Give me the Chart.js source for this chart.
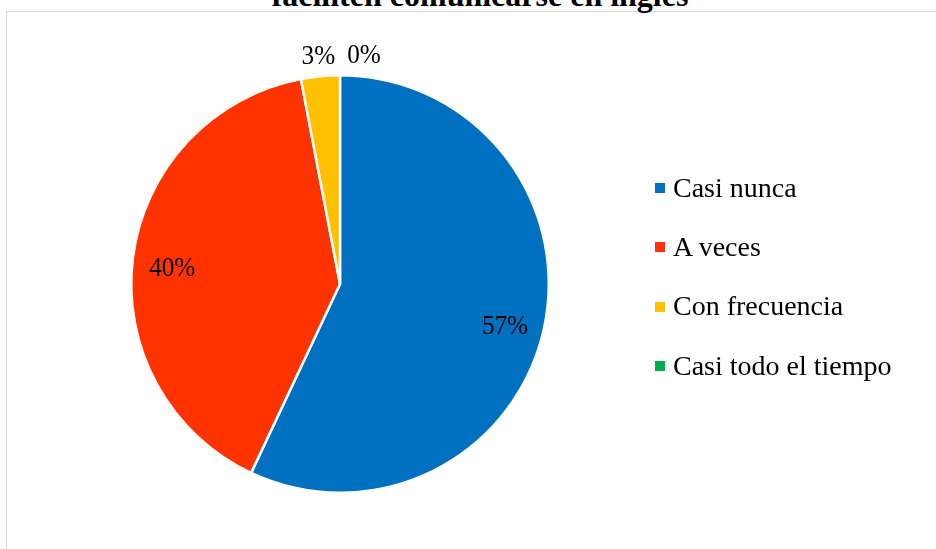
<!DOCTYPE html>
<html>
<head>
<meta charset="utf-8">
<script src="https://cdn.jsdelivr.net/npm/chart.js@4.4.1/dist/chart.umd.min.js"></script>
<style>
  html, body { margin: 0; padding: 0; background: #fff; overflow: hidden; }
  #wrap { position: relative; width: 936px; height: 549px; font-family: "Liberation Serif", "Times New Roman", serif; }
  #frame { position: absolute; left: 6px; top: 11px; width: 1000px; height: 600px; border: 1.5px solid #d9d9d9; box-sizing: border-box; }
  #title { position: absolute; left: 0; width: 960px; top: -21px; line-height: 32px; text-align: center; font-weight: bold; font-size: 32px; color: #000; white-space: nowrap; }
  canvas { position: absolute; left: 0; top: 0; }
  #legend { position: absolute; left: 655px; top: 158px; }
  .item { height: 59.3px; display: flex; align-items: center; font-size: 28px; color: #000; }
  .box { width: 10px; height: 10px; margin-right: 8px; margin-top: 1px; }
</style>
</head>
<body>
<div id="wrap">
  <div id="frame"></div>
  <div id="title">faciliten comunicarse en inglés</div>
  <canvas id="pie" width="936" height="549"></canvas>
  <div id="legend"></div>
</div>
<script>
const categories = ['Casi nunca', 'A veces', 'Con frecuencia', 'Casi todo el tiempo'];
const percents = [57, 40, 3, 0];
const colors = ['#0070C0', '#FF3300', '#FFC000', '#00B050'];

const total = percents.reduce((a, b) => a + b, 0);
const pctLabels = percents.map(v => v + '%');

// legend in HTML so it matches the original spacing
const legend = document.getElementById('legend');
categories.forEach((name, i) => {
    const row = document.createElement('div');
    row.className = 'item';
    const box = document.createElement('span');
    box.className = 'box';
    box.style.background = colors[i];
    row.appendChild(box);
    row.appendChild(document.createTextNode(name));
    legend.appendChild(row);
});

// percentage labels: inside for big slices, outside above for small ones
const pctPlugin = {
    id: 'pctLabels',
    afterDatasetsDraw(chart) {
        const ctx = chart.ctx;
        const meta = chart.getDatasetMeta(0);
        const sx = 0.9; // the original font is a bit narrower
        ctx.save();
        ctx.font = '28px "Liberation Serif", "Times New Roman", serif';
        ctx.fillStyle = '#000';
        ctx.textBaseline = 'middle';
        ctx.textAlign = 'center';
        let lastRight = -Infinity;
        meta.data.forEach((arc, i) => {
            const p = arc.getProps(['x', 'y', 'startAngle', 'endAngle', 'outerRadius'], true);
            const mid = (p.startAngle + p.endAngle) / 2;
            const share = percents[i] / total;
            const text = pctLabels[i];
            const w = ctx.measureText(text).width * sx;
            let x, y;
            if (share > 0.1) {
                const r = p.outerRadius * 0.81;
                x = p.x + Math.cos(mid) * r;
                y = p.y + Math.sin(mid) * r + 5;
            } else {
                const r = p.outerRadius + 21;
                x = p.x + Math.cos(mid) * r;
                y = p.y + Math.sin(mid) * r;
                if (x - w / 2 < lastRight + 12) x = lastRight + 12 + w / 2;
                lastRight = x + w / 2;
            }
            ctx.save();
            ctx.translate(x, y + 1);
            ctx.scale(sx, 1);
            ctx.fillText(text, 0, 0);
            ctx.restore();
        });
        ctx.restore();
    }
};

new Chart(document.getElementById('pie'), {
    type: 'pie',
    data: {
        labels: categories,
        datasets: [{
            data: percents,
            backgroundColor: colors,
            borderColor: '#ffffff',
            borderWidth: 2.5
        }]
    },
    options: {
        responsive: false,
        animation: false,
        layout: { padding: { left: 130, right: 386, top: 74, bottom: 55 } },
        plugins: {
            legend: { display: false },
            tooltip: { enabled: false }
        }
    },
    plugins: [pctPlugin]
});
</script>
</body>
</html>
